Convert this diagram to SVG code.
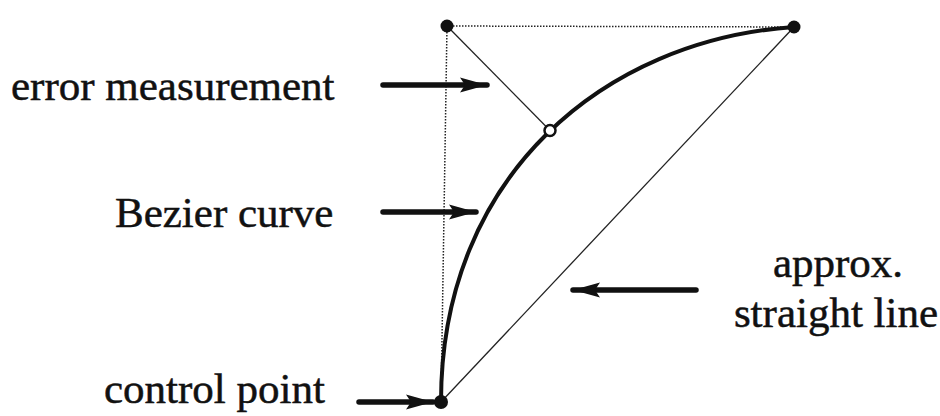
<svg xmlns="http://www.w3.org/2000/svg" width="940" height="416" viewBox="0 0 940 416">
<style>
.lbl{font-family:"Liberation Serif","Times New Roman",serif;font-size:43px;fill:#111;stroke:#111;stroke-width:0.5}
.dot{fill:#111}
.thin{stroke:#222;stroke-width:1.3;fill:none}
.dotted{stroke:#222;stroke-width:1.5;fill:none;stroke-dasharray:1.5 1.5}
.arr{stroke:#111;stroke-width:5.5;stroke-linecap:round;fill:none;marker-end:url(#head)}
</style>
<defs>
<marker id="head" markerUnits="userSpaceOnUse" markerWidth="30" markerHeight="18" refX="27" refY="9" orient="auto">
<path d="M0,1.5 L27,9 L0,16.5 L5,9 Z" fill="#111"/>
</marker>
</defs>
<rect width="940" height="416" fill="#fff"/>
<g id="connectors">
<line class="dotted" x1="447" y1="26" x2="794" y2="27"/>
<line class="dotted" x1="447" y1="26" x2="441" y2="402"/>
<line class="thin" x1="447" y1="26" x2="550" y2="130.5"/>
<line class="thin" x1="441" y1="402" x2="794" y2="27"/>
<path id="bezier" d="M441,402 C441,175 605,40 794,27" stroke="#111" stroke-width="4" fill="none"/>
<line class="arr" x1="383" y1="85" x2="487" y2="85"/>
<line class="arr" x1="383" y1="212" x2="476" y2="212"/>
<line class="arr" x1="696" y1="290" x2="573" y2="290"/>
<line class="arr" x1="359" y1="402" x2="433" y2="402"/>
</g>
<g id="p-topleft"><circle class="dot" cx="447" cy="26" r="6.5"/></g>
<g id="p-topright"><circle class="dot" cx="794" cy="27" r="6.5"/></g>
<g id="p-bottom"><circle class="dot" cx="441" cy="402" r="7"/></g>
<g id="p-error"><circle cx="550" cy="130.5" r="5.5" fill="#fff" stroke="#111" stroke-width="2.5"/></g>
<g id="label-error"><text class="lbl" x="11" y="100">error measurement</text></g>
<g id="label-bezier"><text class="lbl" x="115" y="227">Bezier curve</text></g>
<g id="label-approx"><text class="lbl" x="838" y="277" text-anchor="middle">approx.</text><text class="lbl" x="836" y="327" text-anchor="middle">straight line</text></g>
<g id="label-control"><text class="lbl" x="104" y="403">control point</text></g>
</svg>
